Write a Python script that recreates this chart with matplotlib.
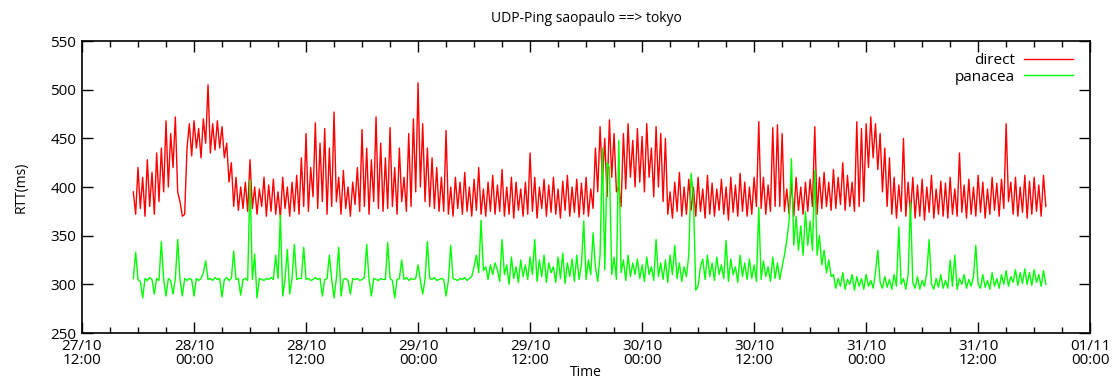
import numpy as np
import pandas as pd
import matplotlib
matplotlib.use('Agg')
import matplotlib.pyplot as plt
import matplotlib.dates as mdates

# 측정 시작 시각, 15분 간격
start_time = '2014-10-27 17:30'
step = '15min'

# direct RTT (ms), 15분 간격으로 그림에서 읽은 값 (한 줄 = 3시간)
direct_rtt = [
    395, 372, 420, 378, 410, 370, 428, 380, 415, 372, 435, 385,
    440, 395, 468, 400, 455, 420, 472, 395, 385, 370, 372, 440,
    465, 432, 468, 440, 460, 430, 470, 445, 505, 435, 465, 438,
    468, 440, 462, 430, 445, 405, 425, 380, 410, 376, 400, 378,
    405, 375, 428, 378, 400, 372, 398, 380, 410, 370, 402, 375,
    408, 372, 395, 368, 410, 378, 400, 370, 405, 375, 412, 372,
    430, 380, 455, 375, 420, 390, 466, 378, 445, 385, 460, 372,
    440, 380, 477, 385, 410, 372, 417, 378, 400, 370, 405, 382,
    420, 375, 459, 380, 440, 372, 428, 385, 472, 378, 445, 375,
    430, 378, 461, 380, 420, 372, 440, 385, 410, 375, 455, 380,
    470, 395, 507, 400, 465, 385, 440, 380, 430, 378, 420, 375,
    410, 375, 458, 372, 400, 370, 410, 378, 405, 372, 415, 375,
    400, 370, 408, 376, 420, 372, 398, 370, 405, 375, 412, 372,
    402, 375, 418, 370, 400, 372, 410, 368, 405, 376, 398, 370,
    405, 372, 435, 375, 410, 368, 400, 378, 408, 370, 402, 374,
    410, 372, 398, 368, 406, 376, 412, 370, 400, 374, 408, 369,
    404, 372, 410, 370, 398, 378, 440, 395, 462, 405, 450, 390,
    469, 410, 455, 395, 400, 380, 455, 398, 465, 410, 448, 400,
    460, 405, 452, 395, 465, 410, 440, 390, 462, 400, 455, 385,
    450, 372, 395, 368, 405, 375, 415, 370, 400, 372, 408, 376,
    400, 370, 410, 375, 398, 368, 412, 372, 404, 370, 398, 376,
    408, 372, 400, 366, 410, 374, 402, 370, 414, 375, 405, 370,
    400, 372, 410, 380, 467, 378, 410, 372, 402, 375, 461, 380,
    464, 380, 455, 375, 398, 372, 405, 370, 410, 376, 400, 372,
    405, 375, 408, 380, 462, 372, 410, 378, 415, 380, 405, 376,
    418, 378, 410, 382, 425, 376, 412, 380, 405, 375, 467, 380,
    460, 385, 465, 420, 472, 430, 465, 418, 455, 395, 440, 380,
    430, 372, 410, 368, 402, 375, 450, 370, 405, 372, 410, 368,
    402, 370, 408, 366, 400, 374, 412, 368, 398, 372, 406, 370,
    404, 368, 410, 372, 398, 370, 435, 374, 402, 368, 408, 372,
    400, 370, 412, 374, 405, 368, 398, 372, 410, 376, 404, 370,
    408, 378, 465, 385, 405, 372, 410, 370, 400, 374, 412, 368,
    406, 372, 410, 375, 402, 370, 412, 380,
]

# panacea RTT (ms)
panacea_rtt = [
    306, 333, 305, 303, 286, 306, 304, 307, 305, 290, 306, 304,
    344, 305, 288, 306, 304, 290, 306, 346, 305, 288, 306, 304,
    306, 305, 288, 306, 304, 306, 312, 324, 305, 306, 304, 307,
    305, 306, 287, 305, 307, 304, 306, 334, 305, 306, 289, 305,
    306, 304, 407, 305, 331, 286, 306, 305, 304, 306, 305, 307,
    305, 330, 306, 371, 288, 305, 336, 290, 306, 341, 305, 306,
    306, 338, 305, 306, 304, 305, 307, 305, 306, 288, 305, 306,
    330, 305, 286, 306, 338, 288, 305, 306, 304, 290, 306, 305,
    306, 304, 305, 307, 341, 305, 288, 306, 305, 304, 306, 305,
    305, 343, 306, 304, 286, 305, 306, 325, 305, 307, 304, 306,
    305, 306, 320, 304, 290, 305, 344, 306, 305, 307, 304, 305,
    306, 305, 288, 304, 340, 306, 305, 304, 306, 305, 307, 304,
    306, 308, 318, 330, 312, 366, 314, 318, 305, 320, 310, 322,
    315, 303, 346, 310, 320, 300, 328, 306, 318, 302, 325, 308,
    320, 305, 328, 310, 346, 303, 325, 308, 330, 302, 322, 312,
    318, 302, 328, 306, 332, 301, 322, 308, 326, 303, 330, 305,
    320, 365, 305, 325, 310, 353, 318, 303, 330, 440, 315, 425,
    420, 310, 328, 305, 448, 312, 325, 304, 330, 308, 322, 310,
    326, 306, 320, 303, 328, 310, 318, 304, 346, 308, 322, 305,
    325, 302, 330, 310, 340, 306, 322, 303, 318, 308, 330, 414,
    390, 294, 298, 318, 326, 305, 330, 308, 322, 304, 328, 310,
    320, 306, 345, 303, 326, 310, 318, 302, 330, 308, 322, 305,
    326, 306, 320, 303, 379, 305, 324, 308, 318, 303, 328, 306,
    322, 305, 318, 330, 345, 365, 429, 340, 370, 335, 360, 330,
    375, 340, 365, 335, 417, 330, 350, 320, 335, 312, 325, 308,
    310, 296, 306, 298, 312, 295, 305, 300, 310, 294, 308, 298,
    306, 295, 310, 298, 304, 296, 312, 335, 302, 296, 308, 297,
    305, 295, 310, 298, 359, 300, 306, 295, 310, 384, 302, 296,
    308, 295, 304, 298, 312, 346, 300, 295, 306, 297, 310, 296,
    304, 296, 325, 298, 330, 295, 306, 300, 310, 296, 305, 298,
    308, 340, 300, 296, 310, 297, 304, 295, 312, 298, 306, 296,
    310, 300, 314, 298, 308, 302, 315, 299, 312, 301, 316, 300,
    312, 299, 315, 302, 310, 298, 314, 300,
]

times = pd.date_range(start_time, periods=len(direct_rtt), freq=step)

plt.rcParams['font.family'] = ['Open Sans', 'DejaVu Sans']

fig = plt.figure(figsize=(11.14, 3.77), dpi=100)
ax = fig.add_axes([0.0736, 0.1167, 0.905, 0.7745])

ax.plot(times, direct_rtt, color='#ff0000', lw=1.0, label='direct')
ax.plot(times, panacea_rtt, color='#00ff00', lw=1.0, label='panacea')

ax.set_ylim(250, 550)
ax.set_yticks(np.arange(250, 551, 50))
ax.set_xlim(pd.Timestamp('2014-10-27 12:00'), pd.Timestamp('2014-11-01 00:00'))
ax.xaxis.set_major_locator(mdates.HourLocator(byhour=[0, 12]))
ax.xaxis.set_minor_locator(mdates.HourLocator(byhour=range(0, 24, 3)))
ax.xaxis.set_major_formatter(mdates.DateFormatter('%d/%m\n%H:%M'))

ax.tick_params(which='both', direction='in', top=True, right=True, labelsize=11, width=1)
ax.tick_params(which='major', length=8, pad=4)
ax.tick_params(which='minor', length=4)
for s in ax.spines.values():
    s.set_linewidth(1.2)
for lbl in ax.get_xticklabels():
    lbl.set_linespacing(0.95)

ax.set_title('UDP-Ping saopaulo ==> tokyo', fontsize=10, pad=14)
ax.set_xlabel('Time', fontsize=10)
ax.xaxis.set_label_coords(0.5, -0.11)
ax.set_ylabel('RTT(ms)', fontsize=10)
ax.yaxis.set_label_coords(-0.053, 0.5)

ax.legend(loc='upper right', frameon=False, markerfirst=False, fontsize=11,
          handlelength=3.2, handletextpad=0.6, labelspacing=0.1,
          borderaxespad=0.4, bbox_to_anchor=(0.995, 1.0))

fig.savefig('out.png', dpi=100)
